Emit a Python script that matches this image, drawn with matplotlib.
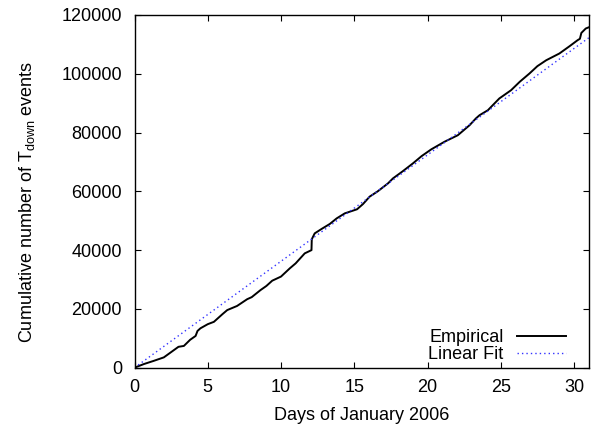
import numpy as np
import matplotlib
matplotlib.use('Agg')
import matplotlib.pyplot as plt

plt.rcParams['font.family'] = ['Liberation Sans', 'DejaVu Sans']
plt.rcParams['font.size'] = 13
plt.rcParams['mathtext.fontset'] = 'custom'
plt.rcParams['mathtext.rm'] = 'Liberation Sans'
plt.rcParams['mathtext.it'] = 'Liberation Sans'

# empirical cumulative counts
days = [0, 0.65, 1.3, 2.0, 2.5, 3.0, 3.37, 3.8, 4.17, 4.3, 4.5, 5.0, 5.42, 6.0, 6.33,
        7.0, 7.69, 8.0, 8.6, 9.0, 9.4, 10.0, 10.6, 11.0, 11.62, 12.08, 12.1, 12.3,
        12.8, 13.33, 13.8, 14.35, 15.19, 15.6, 16.05, 16.6, 17.3, 17.64, 18.3, 19.0,
        19.6, 20.26, 21.17, 22.07, 22.87, 23.3, 23.55, 24.12, 24.9, 25.7, 26.3,
        26.96, 27.5, 28.1, 29.0, 29.7, 30.25, 30.4, 30.5, 30.8, 31.0]
counts = [0, 1250, 2300, 3500, 5300, 7100, 7400, 9500, 10800, 12500, 13400, 14800,
          15600, 18200, 19600, 21000, 23300, 24000, 26400, 27800, 29600, 31000,
          33800, 35500, 38900, 40000, 43700, 45700, 47300, 48900, 50800, 52500,
          53900, 55700, 58200, 60000, 62700, 64400, 66800, 69500, 72000, 74300,
          76900, 79100, 82500, 84800, 85900, 87600, 91600, 94400, 97300, 100100,
          102600, 104600, 106900, 109400, 111450, 111900, 113900, 115400, 115800]

# linear fit: count = slope * day
fit_slope = 3620
fit_days = np.array([0, 31])

fig = plt.figure(figsize=(5.92, 4.26), dpi=100)
ax = fig.add_axes([0.2272, 0.1369, 0.9944 - 0.2272, 0.9648 - 0.1369])

ax.plot(days, counts, color='black', lw=1.4, label='Empirical')
ax.plot(fit_days, fit_slope * fit_days, color='#3333ff', lw=1.0,
        linestyle=(0, (1, 2.2)), label='Linear Fit')

ax.set_xlim(0, 31)
ax.set_ylim(0, 120000)
ax.set_xticks([0, 5, 10, 15, 20, 25, 30])
ax.set_yticks(np.arange(0, 120001, 20000))
ax.tick_params(direction='in', top=True, right=True, length=4.5, width=0.8)
ax.tick_params(axis='x', pad=8)
ax.tick_params(axis='y', pad=9)
for s in ax.spines.values():
    s.set_linewidth(1.0)

ax.set_xlabel('Days of January 2006', labelpad=8)
ax.set_ylabel('Cumulative number of T$_{\\mathrm{down}}$ events')
ax.yaxis.set_label_coords(-0.215, 0.47)

ax.legend(loc='lower right', frameon=False, markerfirst=False, handlelength=2.7,
          handletextpad=0.76, labelspacing=0.0, borderaxespad=0.0,
          bbox_to_anchor=(0.966, -0.008))

fig.savefig('out.png', dpi=100)
